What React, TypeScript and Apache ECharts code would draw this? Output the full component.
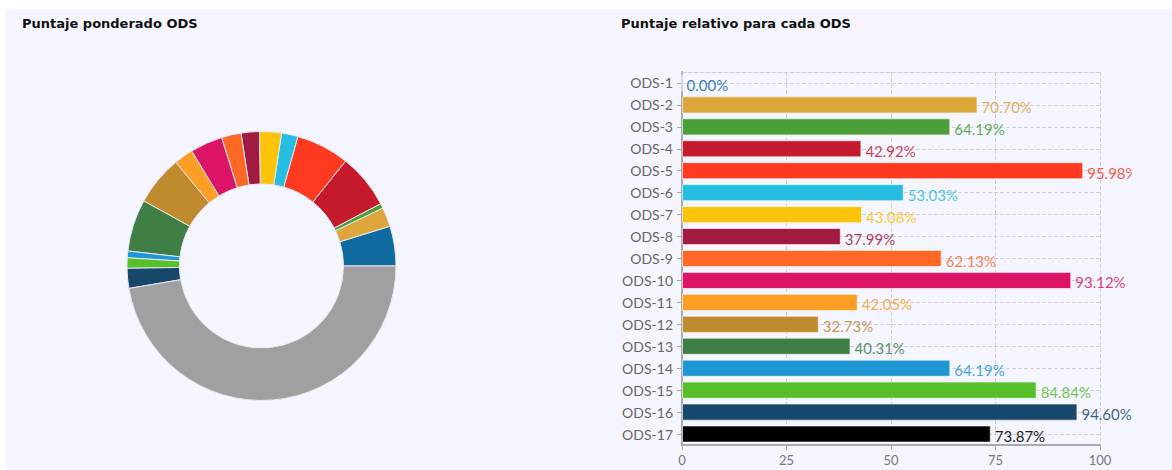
import React, { useEffect, useRef } from "react";
import * as echarts from "echarts";

const categories = ["ODS-1","ODS-2","ODS-3","ODS-4","ODS-5","ODS-6","ODS-7","ODS-8","ODS-9","ODS-10","ODS-11","ODS-12","ODS-13","ODS-14","ODS-15","ODS-16","ODS-17"];
const colors = ["#0f6a9f","#dda63a","#4c9f38","#c5192d","#ff3a21","#26bde2","#fcc30b","#a21942","#fd6925","#dd1367","#fd9d24","#bf8b2e","#3f7e44","#1f97d4","#56c02b","#17476a","#000000"];
const relativeScores = [0.0,70.70,64.19,42.92,95.98,53.03,43.08,37.99,62.13,93.12,42.05,32.73,40.31,64.19,84.84,94.60,73.87];
const weightedNames = ["ODS-1","ODS-2","ODS-3","ODS-4","ODS-5","ODS-6","ODS-7","ODS-8","ODS-9","ODS-10","ODS-11","ODS-12","ODS-13","ODS-14","ODS-15","ODS-16","Restante"];
const weightedScores = [4.78,2.31,0.58,6.58,6.39,1.97,2.64,2.19,2.36,3.89,2.31,5.97,6.25,0.81,1.25,2.39,47.33];
const remainderColor = "#a0a0a0";
const xTicks = [0, 25, 50, 75, 100];

function hexA(hex: string, a: number) {
  const n = parseInt(hex.slice(1), 16);
  return `rgba(${(n >> 16) & 255},${(n >> 8) & 255},${n & 255},${a})`;
}

const titleStyle = { fontFamily: "DejaVu Sans", fontWeight: "bold" as const, fontSize: 13, color: "#111" };

export default function App() {
  const leftRef = useRef<HTMLDivElement>(null);
  const rightRef = useRef<HTMLDivElement>(null);

  useEffect(() => {
    const left = echarts.init(leftRef.current!, undefined, { renderer: "svg" });
    const right = echarts.init(rightRef.current!, undefined, { renderer: "svg" });

    left.setOption({
      animation: false,
      title: { text: "Puntaje ponderado ODS", left: 12, top: 3, textStyle: titleStyle },
      series: [{
        type: "pie",
        center: [256.5, 257],
        radius: [82, 134.5],
        startAngle: 0,
        clockwise: false,
        label: { show: false },
        labelLine: { show: false },
        itemStyle: { borderColor: "#e8e8ee", borderWidth: 1 },
        data: weightedScores.map((v, i) => ({
          name: weightedNames[i],
          value: v,
          itemStyle: { color: i < 16 ? colors[i] : remainderColor },
        })),
      }],
    });

    right.setOption({
      animation: false,
      title: { text: "Puntaje relativo para cada ODS", left: 25, top: 3, textStyle: titleStyle },
      grid: { left: 91, top: 63, width: 418, height: 373, containLabel: false },
      xAxis: [{
        type: "value",
        min: 0,
        max: 100,
        interval: 25,
        axisLine: { show: true, lineStyle: { color: "#aaa", width: 2 } },
        axisTick: { show: true, length: 5, lineStyle: { color: "#aaa" } },
        axisLabel: { color: "#777", fontSize: 13, fontFamily: "Lato", margin: 8, formatter: (v: number) => (xTicks.includes(v) ? String(v) : "") },
        splitLine: { show: true, lineStyle: { type: "dashed", color: "#cfcfd6" } },
      }, {
        type: "value",
        position: "top",
        min: 0,
        max: 100,
        interval: 25,
        axisLine: { show: true, lineStyle: { type: "dashed", color: "#cfcfd6" } },
        axisTick: { show: false },
        axisLabel: { show: false },
        splitLine: { show: false },
      }],
      yAxis: {
        type: "category",
        inverse: true,
        data: categories,
        axisLine: { show: true, lineStyle: { color: "#aaa", width: 2 } },
        axisTick: { show: true, length: 5, alignWithLabel: true, lineStyle: { color: "#aaa" } },
        axisLabel: { color: "#666", fontSize: 14, fontFamily: "Lato", margin: 9 },
        splitLine: { show: true, alignWithLabel: true, lineStyle: { type: "dashed", color: "#cfcfd6" } },
      },
      series: [{
        type: "bar",
        xAxisIndex: 0,
        barCategoryGap: "22%",
        data: relativeScores.map((v, i) => ({
          value: v,
          itemStyle: { color: colors[i], borderColor: "rgba(255,255,255,0.6)", borderWidth: 1 },
          label: { color: i === 16 ? "#222" : hexA(colors[i], 0.85) },
        })),
        label: {
          show: true,
          position: "right",
          distance: 4,
          fontSize: 15,
          fontFamily: "Lato",
          offset: [0, 2],
          formatter: (p: any) => `${p.value.toFixed(2)}%`,
        },
      }],
    });

    return () => {
      left.dispose();
      right.dispose();
    };
  }, []);

  return (
    <div style={{ position: "fixed", left: 0, top: 0, width: 1172, height: 470, background: "#ffffff", overflow: "hidden" }}>
      <div style={{ position: "absolute", left: 5, top: 9, width: 1167, height: 461, background: "#f4f5fe" }}>
        <div ref={leftRef} style={{ position: "absolute", left: 0, top: 0, width: 586, height: 461 }} />
        <div ref={rightRef} style={{ position: "absolute", left: 586, top: 0, width: 541, height: 461, overflow: "hidden" }} />
      </div>
    </div>
  );
}
